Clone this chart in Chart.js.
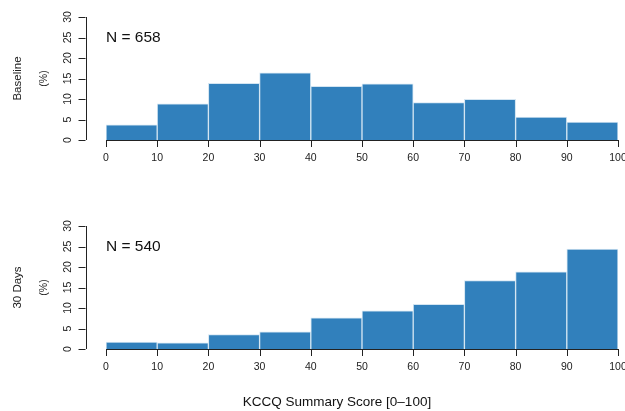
<!DOCTYPE html>
<html>
<head>
<meta charset="utf-8">
<script src="https://cdn.jsdelivr.net/npm/chart.js@4.4.1/dist/chart.umd.min.js"></script>
<style>
    body { margin: 0; background: #fff; width: 625px; height: 411px; overflow: hidden; position: relative; }
    .panel { position: absolute; left: 0; width: 625px; height: 200px; }
    #xtitle { position: absolute; top: 394px; left: 237px; width: 200px; text-align: center;
              font: 13.5px "Liberation Sans", Arial, sans-serif; color: #111; white-space: nowrap; }
</style>
</head>
<body>
<div class="panel" style="top:0px"><canvas id="top"></canvas></div>
<div class="panel" style="top:209px"><canvas id="bottom"></canvas></div>
<div id="xtitle">KCCQ Summary Score [0–100]</div>
<script>
// bin midpoints of the histogram, width 10
const binMids = [5, 15, 25, 35, 45, 55, 65, 75, 85, 95];
const baselinePct = [3.7, 8.8, 13.8, 16.4, 13.1, 13.7, 9.1, 9.9, 5.6, 4.4];
const day30Pct = [1.7, 1.5, 3.5, 4.2, 7.6, 9.3, 10.9, 16.7, 18.8, 24.4];
const xTicks = [0, 10, 20, 30, 40, 50, 60, 70, 80, 90, 100];
const yTicks = [0, 5, 10, 15, 20, 25, 30];

const fontName = '"Liberation Sans", Arial, sans-serif';

// R-style axes drawn from the chart scales
const rAxes = {
    id: "rAxes",
    afterDraw(chart, args, opts) {
        const ctx = chart.ctx;
        const xs = chart.scales.x, ys = chart.scales.y;
        const y0 = ys.getPixelForValue(0);
        const axX = xs.getPixelForValue(-4);
        ctx.save();
        ctx.strokeStyle = "#222";
        ctx.fillStyle = "#222";
        ctx.lineWidth = 1;

        // x axis
        ctx.beginPath();
        ctx.moveTo(xs.getPixelForValue(0), y0 + 0.5);
        ctx.lineTo(xs.getPixelForValue(100), y0 + 0.5);
        xTicks.forEach((t) => {
            const px = Math.round(xs.getPixelForValue(t)) + 0.5;
            ctx.moveTo(px, y0);
            ctx.lineTo(px, y0 + 7);
        });
        ctx.stroke();
        ctx.font = "10.5px " + fontName;
        ctx.textAlign = "center";
        ctx.textBaseline = "middle";
        xTicks.forEach((t) => {
            ctx.fillText(String(t), xs.getPixelForValue(t), y0 + 18);
        });

        // y axis
        ctx.beginPath();
        ctx.moveTo(Math.round(axX) + 0.5, ys.getPixelForValue(0));
        ctx.lineTo(Math.round(axX) + 0.5, ys.getPixelForValue(30));
        yTicks.forEach((t) => {
            const py = Math.round(ys.getPixelForValue(t)) + 0.5;
            ctx.moveTo(axX, py);
            ctx.lineTo(axX - 7, py);
        });
        ctx.stroke();
        yTicks.forEach((t) => {
            ctx.save();
            ctx.translate(axX - 17, ys.getPixelForValue(t));
            ctx.rotate(-Math.PI / 2);
            ctx.fillText(String(t), 0, 0);
            ctx.restore();
        });

        // rotated titles
        const midY = ys.getPixelForValue(15);
        ctx.save();
        ctx.translate(axX - 41, midY);
        ctx.rotate(-Math.PI / 2);
        ctx.fillText("(%)", 0, 0);
        ctx.restore();
        ctx.save();
        ctx.font = "11.5px " + fontName;
        ctx.translate(axX - 68, midY);
        ctx.rotate(-Math.PI / 2);
        ctx.fillText(opts.title, 0, 0);
        ctx.restore();

        // N label
        ctx.font = "15.5px " + fontName;
        ctx.textAlign = "left";
        ctx.fillStyle = "#111";
        ctx.fillText(opts.nText, xs.getPixelForValue(0), ys.getPixelForValue(25) + 0.5);
        ctx.restore();
    }
};

function makeHist(id, values, title, nText) {
    return new Chart(document.getElementById(id), {
        type: "bar",
        data: {
            datasets: [{
                data: binMids.map((m, i) => ({ x: m, y: values[i] })),
                backgroundColor: "#3180bc",
                borderColor: "#d3e5f2",
                borderWidth: 1,
                barPercentage: 1,
                categoryPercentage: 1,
                borderSkipped: "bottom"
            }]
        },
        options: {
            responsive: true,
            maintainAspectRatio: false,
            animation: false,
            layout: { padding: { left: 106, right: 7, top: 17, bottom: 60 } },
            plugins: {
                legend: { display: false },
                tooltip: { enabled: false },
                rAxes: { title: title, nText: nText }
            },
            scales: {
                x: { type: "linear", min: 0, max: 100, display: false, offset: false },
                y: { min: 0, max: 30, display: false }
            }
        },
        plugins: [rAxes]
    });
}

makeHist("top", baselinePct, "Baseline", "N = 658");
makeHist("bottom", day30Pct, "30 Days", "N = 540");
</script>
</body>
</html>
